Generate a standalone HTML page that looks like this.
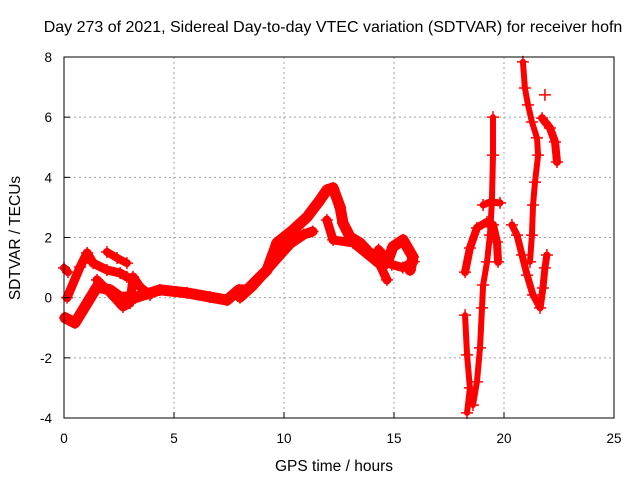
<!DOCTYPE html>
<html><head><meta charset="utf-8"><style>
body{margin:0;background:#fff}
svg{display:block;font-family:"Liberation Sans",sans-serif}
</style></head><body>
<svg id="chart" width="640" height="480">
<text x="333" y="32" font-size="16" text-anchor="middle">Day 273 of 2021, Sidereal Day-to-day VTEC variation (SDTVAR) for receiver hofn</text>
<text x="334" y="471" font-size="15.5" text-anchor="middle">GPS time / hours</text>
<text transform="translate(20,238) rotate(-90)" font-size="15.5" text-anchor="middle">SDTVAR / TECUs</text>
<g id="grid"></g><g id="marks"></g><g id="axes"></g>
</svg>
<script>
const xTicks=[0,5,10,15,20,25];
const yTicks=[-4,-2,0,2,4,6,8];
const track1H=[0.05,0.5,1.05,1.5,2.09,2.55,3.32,4.36,5.59,6.64,7.41,7.95,8.32,9.23,9.68,10.41,11.05,11.64,11.95,12.23,12.55,12.68,13.0,13.45,14.05,14.68,14.95,15.41,15.86,15.73];
const track1V=[-0.67,-0.84,-0.18,0.36,0.26,0.02,0.02,0.26,0.16,0.02,-0.08,0.26,0.26,0.92,1.82,2.25,2.68,3.25,3.58,3.65,3.01,2.48,2.02,1.82,1.35,1.15,1.69,1.92,1.35,0.92];
const track1bH=[8.0,8.6,9.2,9.8,10.3,10.9,11.3];
const track1bV=[0.0,0.4,0.9,1.4,1.8,2.1,2.2];
const track2H=[11.95,12.23,13.14,14.36,14.68];
const track2V=[2.58,1.92,1.82,1.09,0.59];
const track2bH=[14.3,14.9,15.4,15.9];
const track2bV=[1.6,1.1,1.0,1.2];
const track3H=[0,0.18];
const track3V=[0.99,0.85];
const track4H=[0.14,0.73,1.05,1.32,1.95,2.55,2.86];
const track4V=[0,1.02,1.49,1.15,0.92,0.82,0.69];
const track5H=[1.95,2.41,2.86];
const track5V=[1.52,1.32,1.15];
const track6H=[1.5,2.09,2.68,3.0,3.14,3.45,3.91];
const track6V=[0.59,0.16,-0.31,-0.18,0.69,0.36,0.09];
const lateAH=[18.23,18.32,18.45,18.32];
const lateAV=[-0.58,-1.9,-3.0,-3.83];
const lateBH=[18.59,18.77,18.91,19.0,19.05,19.23,19.36,19.45,19.5,19.5];
const lateBV=[-3.57,-2.8,-1.67,-0.34,0.42,1.19,2.08,3.18,4.74,6.0];
const lateCH=[18.23,18.45,18.77,19.23,19.5,19.68,19.73];
const lateCV=[0.85,1.65,2.32,2.52,2.42,1.85,1.19];
const lateDH=[19.05,19.36,19.82];
const lateDV=[3.08,3.18,3.15];
const lateEH=[20.36,20.59,20.82,21.05,21.32,21.64,21.77,21.86,21.95];
const lateEV=[2.42,2.08,1.42,0.75,0.09,-0.34,0.32,0.99,1.42];
const lateFH=[20.86,20.95,21.09,21.27,21.5,21.55,21.41,21.32,21.27,21.18];
const lateFV=[7.84,6.97,6.41,5.84,5.31,4.74,3.84,3.08,2.08,1.19];
const lateGH=[21.73,22.09,22.32,22.41];
const lateGV=[5.97,5.64,5.18,4.51];
const lateHH=[21.86];
const lateHV=[6.74];

const X0=64,X1=614,Y0=418,Y1=57;
const sx=h=>X0+(h-0)/(25-0)*(X1-X0);
const sy=v=>Y0-(v+4)/(12)*(Y0-Y1);
const NS="http://www.w3.org/2000/svg";
const grid=document.getElementById('grid'),marks=document.getElementById('marks'),axes=document.getElementById('axes');
function mk(t,a,p){const e=document.createElementNS(NS,t);for(const k in a)e.setAttribute(k,a[k]);p.appendChild(e);return e;}
xTicks.forEach(t=>{
 const x=sx(t);
 if(t>0&&t<25){const g=mk('line',{x1:x,x2:x,y1:Y1,y2:Y0,stroke:'#a0a0a0','stroke-dasharray':'2,3'},grid);
 
 }
 const tk=mk('line',{x1:x,x2:x,y1:Y0,y2:Y0-6,stroke:'#000'},axes);
 
 
 const l=mk('text',{x:x,y:443,'font-size':13.5,'text-anchor':'middle'},axes);l.textContent=t;
 
 
});
yTicks.forEach(t=>{
 const y=sy(t);
 if(t>-4&&t<8){const g=mk('line',{x1:X0,x2:X1,y1:y,y2:y,stroke:'#a0a0a0','stroke-dasharray':'2,3'},grid);
 
 }
 const tk=mk('line',{x1:X0,x2:X0+6,y1:y,y2:y,stroke:'#000'},axes);
 
 
 const l=mk('text',{x:52,y:y+5,'font-size':13.5,'text-anchor':'end'},axes);l.textContent=t;
 
 
});
const fr=mk('rect',{x:X0,y:Y1,width:X1-X0,height:Y0-Y1,fill:'none',stroke:'#000'},axes);


const series=[[track1H,track1V,11],[track1bH,track1bV,10],[track2H,track2V,9],[track2bH,track2bV,9],[track3H,track3V,8],[track4H,track4V,9],[track5H,track5V,8],[track6H,track6V,9],
[lateAH,lateAV,6],[lateBH,lateBV,6],[lateCH,lateCV,8],[lateDH,lateDV,7],[lateEH,lateEV,7],[lateFH,lateFV,6],[lateGH,lateGV,8],[lateHH,lateHV,2]];
series.forEach(([H,V,w],i)=>{
 const pts=H.map((h,j)=>sx(h)+','+sy(V[j])).join(' ');
 if(H.length>1){const p=mk('polyline',{points:pts,fill:'none',stroke:'#f00','stroke-width':w,'stroke-linejoin':'round','stroke-linecap':'round'},marks);
 
 }
 H.forEach((h,j)=>{const x=sx(h),y=sy(V[j]);
  const m=mk('path',{d:`M${x-6},${y}h12M${x},${y-6}v12`,stroke:'#f00','stroke-width':1.5},marks);
  
  
 });
});
</script>
</body></html>
